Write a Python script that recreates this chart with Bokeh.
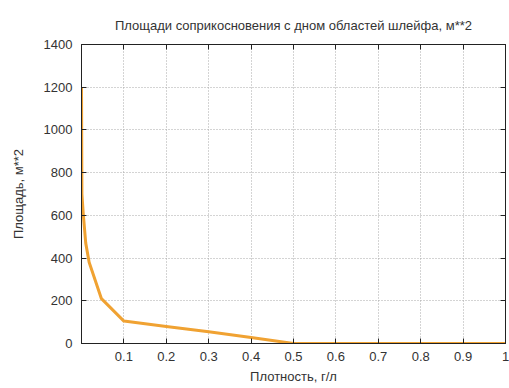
from bokeh.plotting import figure
from bokeh.models import Range1d, LinearAxis, FixedTicker, CustomJSTickFormatter
from bokeh.embed import file_html
from bokeh.resources import INLINE

# Data
density = [0.0, 0.001, 0.004, 0.01, 0.018, 0.047, 0.1, 0.2, 0.3, 0.4, 0.5, 0.6, 0.7, 0.8, 0.9, 1.0]
area = [1200, 700, 610, 470, 380, 210, 105, 80, 55, 28, 0, 0, 0, 0, 0, 0]

x_ticks = [0.1, 0.2, 0.3, 0.4, 0.5, 0.6, 0.7, 0.8, 0.9, 1.0]
y_ticks = [0, 200, 400, 600, 800, 1000, 1200, 1400]

title_text = "Площади соприкосновения с дном областей шлейфа, м**2"
x_label = "Плотность, г/л"
y_label = "Площадь, м**2"

FONT = "Liberation Sans"
TXT = "#333333"
FRAME = "#222222"

p = figure(width=509, height=388, output_backend="svg", toolbar_location=None,
           x_range=Range1d(0, 1), y_range=Range1d(0, 1400),
           title=title_text, x_axis_label=x_label, y_axis_label=y_label)

p.min_border_left = 81
p.min_border_right = 4
p.min_border_top = 44
p.min_border_bottom = 45

p.title.align = "center"
p.title.text_font = FONT
p.title.text_font_size = "13px"
p.title.text_font_style = "normal"
p.title.text_color = TXT
p.title.standoff = 24

p.outline_line_color = FRAME
p.outline_line_width = 1
p.outline_line_alpha = 1

xf = CustomJSTickFormatter(code="return tick.toFixed(1).replace(/\\.0$/, '');")
blank = CustomJSTickFormatter(code="return '';")

for ax in p.xaxis:
    ax.ticker = FixedTicker(ticks=x_ticks)
    ax.formatter = xf
for ax in p.yaxis:
    ax.ticker = FixedTicker(ticks=y_ticks)

for ax in list(p.xaxis) + list(p.yaxis):
    ax.axis_line_color = FRAME
    ax.major_tick_in = 5
    ax.major_tick_out = 0
    ax.major_tick_line_color = FRAME
    ax.minor_tick_line_color = None
    ax.major_label_text_font = FONT
    ax.major_label_text_font_size = "13px"
    ax.major_label_text_color = TXT
    ax.axis_label_text_font = FONT
    ax.axis_label_text_font_size = "13px"
    ax.axis_label_text_font_style = "normal"
    ax.axis_label_text_color = TXT

p.xaxis.major_label_standoff = 8
p.xaxis.axis_label_standoff = 5
p.yaxis.major_label_standoff = 9
p.yaxis.axis_label_standoff = 15

# mirror axes (ticks only) on top and right
top = LinearAxis(ticker=FixedTicker(ticks=x_ticks), formatter=blank,
                 major_label_standoff=0, major_tick_in=5, major_tick_out=0,
                 minor_tick_line_color=None, axis_line_color=FRAME,
                 major_tick_line_color=FRAME)
right = LinearAxis(ticker=FixedTicker(ticks=y_ticks), formatter=blank,
                   major_label_standoff=0, major_tick_in=5, major_tick_out=0,
                   minor_tick_line_color=None, axis_line_color=FRAME,
                   major_tick_line_color=FRAME)
p.add_layout(top, "above")
p.add_layout(right, "right")

p.xgrid.ticker = FixedTicker(ticks=x_ticks)
p.ygrid.ticker = FixedTicker(ticks=y_ticks)
for g in list(p.xgrid) + list(p.ygrid):
    g.grid_line_color = "#a8a8a8"
    g.grid_line_dash = "1 2"
    g.grid_line_width = 1

p.line(density, area, line_color="#f0a232", line_width=3, line_join="round")

open("out.html", "w").write(file_html(p, INLINE))
